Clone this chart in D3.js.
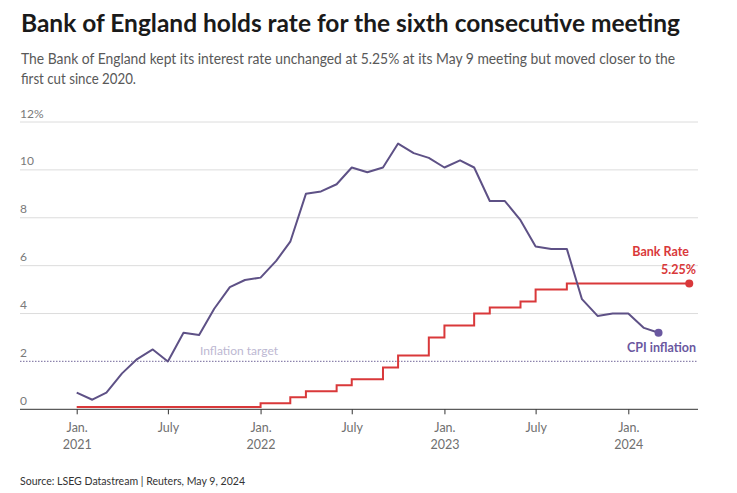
<!DOCTYPE html>
<html>
<head>
<meta charset="utf-8">
<script src="https://cdn.jsdelivr.net/npm/d3@7"></script>
<style>
  body { margin: 0; background: #fff; }
  svg { display: block; }
  text { font-family: Lato, "Open Sans", sans-serif; }
</style>
</head>
<body>
<svg id="chart" width="737" height="493"></svg>
<script>
// ---------- data ----------
const cpiMonths = [
  "2021-01","2021-02","2021-03","2021-04","2021-05","2021-06","2021-07","2021-08","2021-09","2021-10","2021-11","2021-12",
  "2022-01","2022-02","2022-03","2022-04","2022-05","2022-06","2022-07","2022-08","2022-09","2022-10","2022-11","2022-12",
  "2023-01","2023-02","2023-03","2023-04","2023-05","2023-06","2023-07","2023-08","2023-09","2023-10","2023-11","2023-12",
  "2024-01","2024-02","2024-03"
];
const cpiValues = [
  0.7,0.4,0.7,1.5,2.1,2.5,2.0,3.2,3.1,4.2,5.1,5.4,
  5.5,6.2,7.0,9.0,9.1,9.4,10.1,9.9,10.1,11.1,10.7,10.5,
  10.1,10.4,10.1,8.7,8.7,7.9,6.8,6.7,6.7,4.6,3.9,4.0,
  4.0,3.4,3.2
];
const rateDates = [
  "2021-01","2022-01","2022-03","2022-04","2022-06","2022-07","2022-09","2022-10",
  "2022-12","2023-01","2023-03","2023-04","2023-06","2023-07","2023-09","2024-05"
];
const rateValues = [
  0.1,0.25,0.5,0.75,1.0,1.25,1.75,2.25,
  3.0,3.5,4.0,4.25,4.5,5.0,5.25,5.25
];
const yTicks = [0, 2, 4, 6, 8, 10, 12];
const yTickLabels = ["0", "2", "4", "6", "8", "10", "12%"];
const xTickDates = ["2021-01","2021-07","2022-01","2022-07","2023-01","2023-07","2024-01"];
const xTickLabels = [["Jan.","2021"],["July",""],["Jan.","2022"],["July",""],["Jan.","2023"],["July",""],["Jan.","2024"]];
const inflationTarget = 2;

const title = "Bank of England holds rate for the sixth consecutive meeting";
const subtitle = [
  "The Bank of England kept its interest rate unchanged at 5.25% at its May 9 meeting but moved closer to the",
  "first cut since 2020."
];
const source = "Source: LSEG Datastream | Reuters, May 9, 2024";

// ---------- setup ----------
const parse = d3.timeParse("%Y-%m");
const cpi = cpiMonths.map((m, i) => ({ date: parse(m), value: cpiValues[i] }));
const rate = rateDates.map((m, i) => ({ date: parse(m), value: rateValues[i] }));

const svg = d3.select("#chart");
const left = 20, right = 698;

const x = d3.scaleTime()
  .domain([parse("2021-01"), parse("2024-01")])
  .range([76.7, 628.3]);
const y = d3.scaleLinear().domain([0, 12]).range([409.3, 122]);

const RED = "#d9383a";
const PURPLE = "#5e5186";
const PURPLE_LABEL = "#6a58a0";

// title & subtitle
svg.append("text")
  .attr("x", 21).attr("y", 32)
  .attr("font-size", 24.5).attr("font-weight", 700).attr("fill", "#1a1a1a")
  .attr("textLength", 659).attr("lengthAdjust", "spacingAndGlyphs")
  .text(title);

svg.append("text")
  .attr("x", 21).attr("y", 64)
  .attr("font-size", 15).attr("fill", "#595959")
  .attr("textLength", 654).attr("lengthAdjust", "spacingAndGlyphs")
  .text(subtitle[0]);
svg.append("text")
  .attr("x", 21).attr("y", 83.5)
  .attr("font-size", 15).attr("fill", "#595959")
  .attr("textLength", 115).attr("lengthAdjust", "spacingAndGlyphs")
  .text(subtitle[1]);

// gridlines
const grid = svg.append("g");
yTicks.forEach((t, i) => {
  if (t === 0) return;
  if (t === inflationTarget) {
    grid.append("line")
      .attr("x1", left).attr("x2", right)
      .attr("y1", y(t)).attr("y2", y(t))
      .attr("stroke", "#8d84ad").attr("stroke-width", 1.3)
      .attr("stroke-dasharray", "1.5,1.5");
  } else {
    grid.append("line")
      .attr("x1", left).attr("x2", right)
      .attr("y1", y(t)).attr("y2", y(t))
      .attr("stroke", "#dcdcdc").attr("stroke-width", 1);
  }
  grid.append("text")
    .attr("x", left).attr("y", y(t) - 4.5)
    .attr("font-size", 12).attr("fill", "#7a7a7a")
    .text(yTickLabels[i]);
});
grid.append("text")
  .attr("x", left).attr("y", y(0) - 4.5)
  .attr("font-size", 12).attr("fill", "#7a7a7a")
  .text(yTickLabels[0]);

// inflation target label
svg.append("text")
  .attr("x", 200).attr("y", y(inflationTarget) - 6)
  .attr("font-size", 12).attr("fill", "#bdb8d2")
  .text("Inflation target");

// x axis
const xAxis = d3.axisBottom(x)
  .tickValues(xTickDates.map(parse))
  .tickSize(5)
  .tickFormat("");
const gx = svg.append("g")
  .attr("transform", `translate(0,${y(0)})`)
  .call(xAxis);
gx.select(".domain").remove();
gx.selectAll(".tick line").attr("stroke", "#333");
svg.append("line")
  .attr("x1", left).attr("x2", right)
  .attr("y1", y(0)).attr("y2", y(0))
  .attr("stroke", "#333").attr("stroke-width", 1);

gx.selectAll(".tick").each(function(d, i) {
  const t = d3.select(this).append("text")
    .attr("fill", "#707070").attr("font-size", 12.5)
    .attr("text-anchor", "middle");
  t.append("tspan").attr("x", 0).attr("y", 23).text(xTickLabels[i][0]);
  if (xTickLabels[i][1]) t.append("tspan").attr("x", 0).attr("y", 39.5).text(xTickLabels[i][1]);
});

// bank rate line
const rateLine = d3.line()
  .x(d => x(d.date)).y(d => y(d.value))
  .curve(d3.curveStepAfter);
svg.append("path")
  .datum(rate)
  .attr("d", rateLine)
  .attr("fill", "none")
  .attr("stroke", RED)
  .attr("stroke-width", 2);
const lastRate = rate[rate.length - 1];
svg.append("circle")
  .attr("cx", x(lastRate.date)).attr("cy", y(lastRate.value))
  .attr("r", 4).attr("fill", RED);

// CPI line
const cpiLine = d3.line().x(d => x(d.date)).y(d => y(d.value));
svg.append("path")
  .datum(cpi)
  .attr("d", cpiLine)
  .attr("fill", "none")
  .attr("stroke", PURPLE)
  .attr("stroke-width", 2)
  .attr("stroke-linejoin", "round");
const lastCpi = cpi[cpi.length - 1];
svg.append("circle")
  .attr("cx", x(lastCpi.date)).attr("cy", y(lastCpi.value))
  .attr("r", 4).attr("fill", PURPLE_LABEL);

// labels
svg.append("text")
  .attr("x", 689).attr("y", 256)
  .attr("text-anchor", "end")
  .attr("font-size", 12.5).attr("font-weight", 700).attr("fill", RED)
  .text("Bank Rate");
svg.append("text")
  .attr("x", 696).attr("y", 274)
  .attr("text-anchor", "end")
  .attr("font-size", 12.5).attr("font-weight", 700).attr("fill", RED)
  .text("5.25%");
svg.append("text")
  .attr("x", 696).attr("y", 352)
  .attr("text-anchor", "end")
  .attr("font-size", 12.5).attr("font-weight", 700).attr("fill", PURPLE_LABEL)
  .text("CPI inflation");

// source
svg.append("text")
  .attr("x", 20).attr("y", 485)
  .attr("font-size", 11.5).attr("fill", "#333")
  .attr("textLength", 225).attr("lengthAdjust", "spacingAndGlyphs")
  .text(source);
</script>
</body>
</html>
